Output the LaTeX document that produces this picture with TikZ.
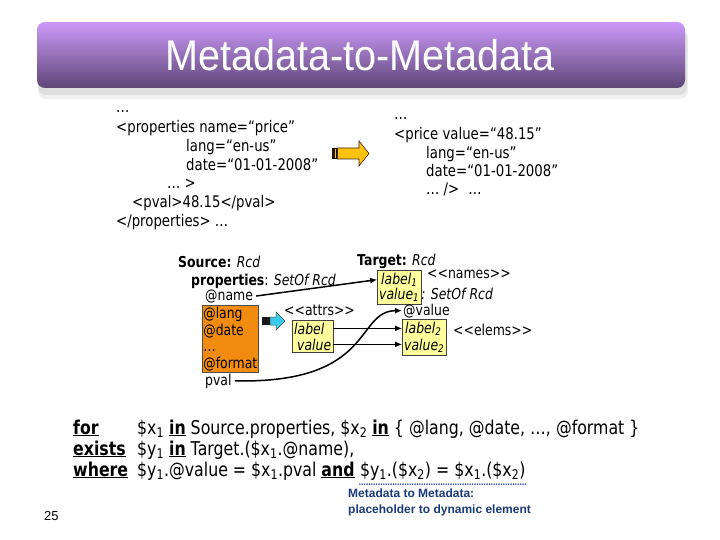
\documentclass[tikz,border=0pt]{standalone}
\usepackage{fontspec}
\setmainfont{DejaVu Sans}[FakeStretch=0.83]
\newfontfamily\titlefont{Liberation Sans}[FakeStretch=0.92]
\newfontfamily\notefont{Liberation Sans}
\usetikzlibrary{fit,arrows.meta,backgrounds}
\definecolor{tbtop}{HTML}{CC9AFA}
\definecolor{tbmid}{HTML}{A47CCF}
\definecolor{tbbot}{HTML}{5E4676}
\definecolor{orangec}{HTML}{F28C10}
\definecolor{yboxc}{HTML}{FFFF9C}
\definecolor{goldc}{HTML}{FFC20E}
\definecolor{cyanc}{HTML}{3CCBEB}
\definecolor{notec}{HTML}{1B3A78}
\definecolor{dotc}{HTML}{2A4FA8}
\newcommand\kwu[1]{\underline{\textbf{#1}}}
\newcommand\lt{<\kern0pt}
\newcommand\gt{>\kern0pt}
\begin{document}
\begin{tikzpicture}[x=1pt,y=-1pt,
  txt/.style={anchor=base west, inner sep=0pt},
  big/.style={font=\fontsize{16}{18}\selectfont},
  mid/.style={font=\fontsize{15}{16.6}\selectfont},
  bot/.style={font=\fontsize{19}{21}\selectfont},
  ybox/.style={draw=black!75, fill=yboxc, inner xsep=1.5pt, inner ysep=2pt, line width=0.6pt},
  obox/.style={draw=black!70, fill=orangec, inner xsep=1pt, inner ysep=1.8pt, line width=0.6pt},
  conn/.style={line width=1.5pt, -{Latex[length=7pt,width=6pt]}},
]
\useasboundingbox (0,0) rectangle (720,540);
% title bar
\fill[gray!12, rounded corners=8pt] (38,30) rectangle (688,99);
\fill[gray!25, rounded corners=8pt] (38,30) rectangle (687,95);
\shade[top color=tbtop, middle color=tbmid, bottom color=tbbot, rounded corners=8pt] (37,22) rectangle (685,88);
\node[font=\titlefont\fontsize{43}{50}\selectfont, text=white] (title) at (360,55) {Metadata-to-Metadata};
% left block
\node[txt,big] (l0) at (116,113) {…};
\node[txt,big] (l1) at (116,133) {<properties name=“price”};
\node[txt,big] (l2) at (186,152) {lang=“en-us”};
\node[txt,big] (l3) at (186,170.5) {date=“01-01-2008”};
\node[txt,big] (l4) at (167,189) {… >};
\node[txt,big] (l5) at (132,207.5) {<pval>48.15</pval>};
\node[txt,big] (l6) at (116,226) {</properties> …};
% big arrow
\fill[black!85!brown] (332,148) rectangle (337.5,159);
\fill[goldc] (334.8,148.6) rectangle (335.7,158.4);
\filldraw[fill=goldc, draw=black!70!brown, line width=0.6pt] (337.5,148) -- (359,148) -- (359,141) -- (369,153.5) -- (359,166) -- (359,159) -- (337.5,159) -- cycle;
% right block
\node[txt,big] (r0) at (394,120) {…};
\node[txt,big] (r1) at (394,140) {<price value=“48.15”};
\node[txt,big] (r2) at (426,159) {lang=“en-us”};
\node[txt,big] (r3) at (426,177) {date=“01-01-2008”};
\node[txt,big] (r4) at (426,195) {… />\hspace{9pt}…};
% source
\node[txt,mid] (src) at (178,267) {\textbf{Source:} \textit{Rcd}};
\node[txt,mid] (props) at (191,285) {\textbf{properties}: \textit{SetOf Rcd}};
\node[txt,mid] (nm) at (205,300) {@name};
\node[obox, mid, anchor=north west, align=left] (attrs) at (202,305) {@lang\\@date\\…\\@format};
\node[txt,mid] (pv) at (205,385) {pval};
% cyan arrow
\fill[black!90] (262,317) rectangle (270,325);
\filldraw[fill=cyanc, draw=black!70, line width=0.5pt] (270,317) -- (276,317) -- (276,312) -- (285,321) -- (276,330) -- (276,325) -- (270,325) -- cycle;
\node[txt,mid] (attrl) at (284,315) {\lt\lt attrs\gt\gt};
\node[txt,mid] (la) at (294,334) {\textit{label}};
\node[txt,mid] (va) at (297,350) {\textit{value}};
% target
\node[txt,mid] (tgt) at (357,265) {\textbf{Target:} \textit{Rcd}};
\node[txt,mid] (lb1) at (381,284) {\textit{label}\textsubscript{\textit{1}}};
\node[txt,mid] (vb1) at (379,299) {\textit{value}\textsubscript{\textit{1}}};
\node[txt,mid] (names) at (427,278) {\lt\lt names\gt\gt};
\node[txt,mid] (atv) at (403,315) {@value};
\node[txt,mid] (lb2) at (405,333) {\textit{label}\textsubscript{\textit{2}}};
\node[txt,mid] (vb2) at (404,350) {\textit{value}\textsubscript{\textit{2}}};
\node[txt,mid] (elems) at (453,335) {\lt\lt elems\gt\gt};
\begin{scope}[on background layer]
\node[ybox, fit=(la)(va)] (yb) {};
\node[ybox, fit=(lb1)(vb1)] (b1) {};
\node[ybox, fit=(lb2)(vb2)] (b2) {};
\end{scope}
\node[txt,mid] (setof) at (b1.east |- vb1.base) {\textit{: SetOf Rcd}};
% connectors
\draw[conn] ([xshift=3pt]nm.east) -- (b1.west |- lb1);
\draw[conn] (yb.east |- la) -- (b2.west |- la);
\draw[conn] (yb.east |- va) -- (b2.west |- va);
\draw[conn] ([xshift=3pt]pv.east) .. controls (375,384) and (355,311) .. ([xshift=-1pt]atv.west);
% bottom
\node[txt,bot] (kf) at (73,434) {\kwu{for}};
\node[txt,bot] (ke) at (73,455) {\kwu{exists}};
\node[txt,bot] (kw) at (73,476) {\kwu{where}};
\node[txt,bot] (e1) at (137,434) {\$x\textsubscript{1} \kwu{in} Source.properties, \$x\textsubscript{2} \kwu{in} \{ @lang, @date, …, @format \}};
\node[txt,bot] (e2) at (137,455) {\$y\textsubscript{1} \kwu{in} Target.(\$x\textsubscript{1}.@name),};
\node[txt,bot] (e3) at (137,476) {\$y\textsubscript{1}.@value = \$x\textsubscript{1}.pval \kwu{and}};
\node[txt,bot] (e3b) at ([xshift=5pt]e3.base east) {\$y\textsubscript{1}.(\$x\textsubscript{2}) = \$x\textsubscript{1}.(\$x\textsubscript{2})};
\draw[dotc, line width=1.8pt, line cap=round, dash pattern=on 0pt off 2.4pt] ([yshift=-4pt]e3b.south west) -- ([yshift=-4pt]e3b.south east);
\node[anchor=north west, inner sep=0pt, align=left, text=notec, font=\notefont\bfseries\fontsize{12}{16}\selectfont] (note) at (348,489) {Metadata to Metadata:\\placeholder to dynamic element};
\node[anchor=west, inner sep=0pt, font=\notefont\fontsize{13}{15}\selectfont] (pg) at (44,516) {25};
\end{tikzpicture}
\end{document}
